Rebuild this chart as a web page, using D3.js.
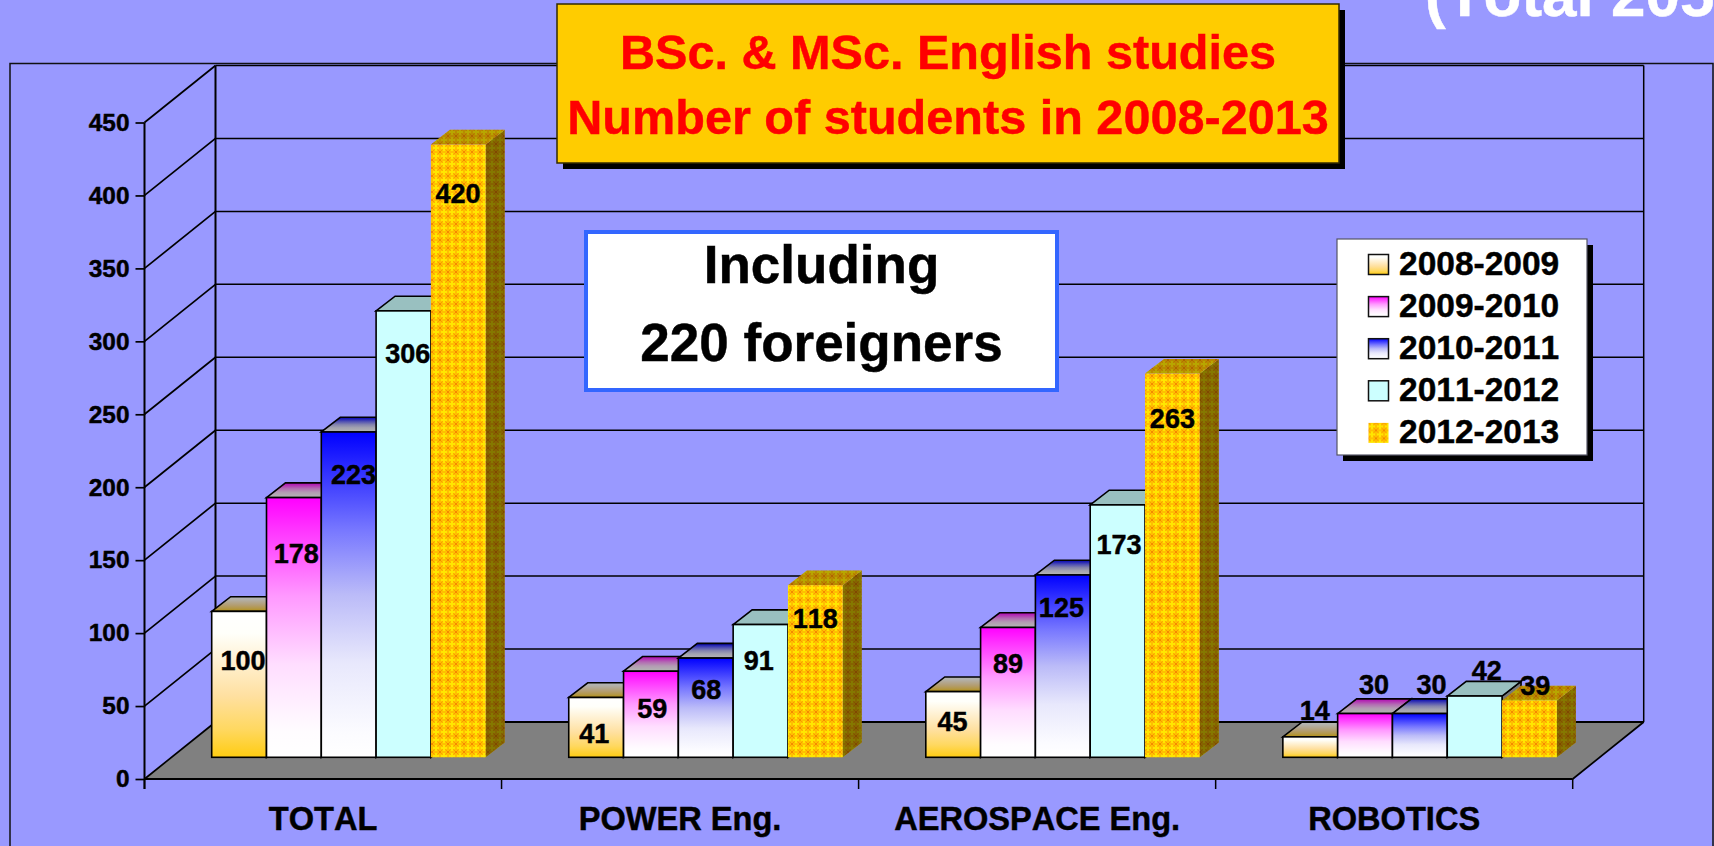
<!DOCTYPE html>
<html><head><meta charset="utf-8">
<script src="https://cdn.jsdelivr.net/npm/d3@7/dist/d3.min.js"></script>
<style>html,body{margin:0;padding:0;background:#9999ff;overflow:hidden}svg{display:block}text{font-family:"Liberation Sans",Arial,sans-serif;font-weight:700;font-kerning:none}</style>
</head><body><div id="chart"></div>
<script>
const categories = ["TOTAL","POWER Eng.","AEROSPACE Eng.","ROBOTICS"];
const seriesNames = ["2008-2009","2009-2010","2010-2011","2011-2012","2012-2013"];
const y2008 = [100,41,45,14];
const y2009 = [178,59,89,30];
const y2010 = [223,68,125,30];
const y2011 = [306,91,173,42];
const y2012 = [420,118,263,39];
const seriesValues = [y2008,y2009,y2010,y2011,y2012];
const yTicks = [0,50,100,150,200,250,300,350,400,450];
const titleLines = ["BSc. & MSc. English studies","Number of students in 2008-2013"];
const noteLines = ["Including","220 foreigners"];
const cornerText = "(Total 205";

// layout: hand placement of the data labels relative to each bar's top centre, [dx, baseline dy]
const labelNudge = [
 [[4,58.6],[2.4,65],[4.8,52],[4.2,52],[-.2,58.5]],
 [[-2,45.2],[1.2,47.1],[.6,41.2],[-1.7,45.5],[0,42.6]],
 [[-.7,39.4],[0,45.3],[-1.4,41.8],[1.4,49],[0,54]],
 [[4.4,-17],[8.9,-20],[11.6,-20],[12,-16],[5.9,-5]]
];
const W=1714,H=846;
const svg=d3.select("#chart").append("svg").attr("width",W).attr("height",H);
const defs=svg.append("defs");

const grads=[
 {front:[[0,"#ffffff"],[.15,"#fffffa"],[.35,"#fff0d0"],[.58,"#ffe0a0"],[.81,"#ffd860"],[1,"#ffcc11"]]},
 {front:[[0,"#ff00ff"],[.12,"#ff33ff"],[.38,"#ff99ff"],[.51,"#ffbbff"],[.64,"#ffddff"],[.9,"#fffcff"],[1,"#ffffff"]]},
 {front:[[0,"#0000ff"],[.3,"#7777ff"],[.5,"#bbbbf8"],[.71,"#e8e8fc"],[.92,"#fbfbff"],[1,"#ffffff"]]}
];
const dark=c=>{const k=d3.rgb(c);return d3.rgb(k.r*.7,k.g*.7,k.b*.7).formatHex();};
grads.forEach((g,i)=>{
  const mk=(id,f)=>defs.append("linearGradient").attr("id",id).attr("x1",0).attr("y1",0).attr("x2",0).attr("y2",1)
    .selectAll("stop").data(g.front).join("stop").attr("offset",d=>d[0]).attr("stop-color",d=>f(d[1]));
  mk("g"+i,c=>c); mk("t"+i,dark);
});
const pat=defs.append("pattern").attr("id","weave").attr("patternUnits","userSpaceOnUse").attr("width",8).attr("height",8);
const tile=[
 [0,0,8,8,"#ffc000"],
 [3,1,2,6,"#ffe600"],[1,3,6,2,"#ffe600"],
 [0,0,1,1,"#f58a00"],[7,0,1,1,"#f58a00"],[0,7,1,1,"#f58a00"],[7,7,1,1,"#f58a00"],
 [1,1,1,1,"#fa9e00"],[6,1,1,1,"#fa9e00"],[1,6,1,1,"#fa9e00"],[6,6,1,1,"#fa9e00"],
 [2,2,1,1,"#ffae00"],[5,2,1,1,"#ffae00"],[2,5,1,1,"#ffae00"],[5,5,1,1,"#ffae00"]
];
pat.selectAll("rect").data(tile).join("rect").attr("x",d=>d[0]).attr("y",d=>d[1]).attr("width",d=>d[2]).attr("height",d=>d[3]).attr("fill",d=>d[4]);

const bg="#9999ff", ink="#000";
const x0=144.5,x1=1572.7,dxB=71,dyB=-57;
const y=d3.scaleLinear().domain([0,450]).range([779,122.5]);
const xCat=d3.scaleBand().domain(categories).range([x0,x1]);
const xSer=d3.scaleBand().domain(seriesNames).range([0,274]);
const barShift=67.2, liftBase=21.7, tdx=19, tdy=-14.7;

// outer frame
svg.append("rect").attr("x",10).attr("y",63.5).attr("width",1703).attr("height",H).attr("fill",bg).attr("stroke","#111").attr("stroke-width",1.5);
// corner text
svg.append("text").attr("x",1425).attr("y",16).attr("font-size",62).attr("fill","#fff").text(cornerText);

// walls
const grid=svg.append("g").attr("fill","none").attr("stroke",ink).attr("stroke-width",1.7);
grid.append("path").attr("d",`M${x0},${y(0)}L${x0+dxB},${y(0)+dyB}L${x1+dxB-.2},${y(0)+dyB}L${x1},${y(0)}Z`).attr("fill","#808080").attr("stroke","none");
grid.selectAll("line.g").data(yTicks).join("line").attr("class","g")
  .attr("x1",x0+dxB).attr("x2",x1+dxB).attr("y1",d=>y(d)+dyB).attr("y2",d=>y(d)+dyB)
  .attr("stroke-width",d=>d==0?2.2:1.5);
grid.selectAll("line.s").data(yTicks).join("line").attr("class","s")
  .attr("x1",x0).attr("x2",x0+dxB).attr("y1",d=>y(d)).attr("y2",d=>y(d)+dyB);
grid.append("line").attr("x1",x0+dxB).attr("x2",x0+dxB).attr("y1",y(450)+dyB).attr("y2",y(0)+dyB).attr("stroke-width",2);
grid.append("line").attr("x1",x1+dxB).attr("x2",x1+dxB).attr("y1",y(450)+dyB).attr("y2",y(0)+dyB).attr("stroke-width",1.5);
grid.append("line").attr("x1",x1).attr("x2",x1+dxB).attr("y1",y(0)).attr("y2",y(0)+dyB);

// axes
const yAxis=d3.axisLeft(y).tickValues(yTicks).tickSize(9).tickPadding(6);
const gy=svg.append("g").attr("transform",`translate(${x0},0)`).call(yAxis);
gy.select(".domain").attr("stroke",ink).attr("stroke-width",2).attr("d",`M0,${y(450)}V${y(0)+10}`);
gy.selectAll(".tick line").attr("stroke",ink).attr("stroke-width",1.7);
gy.selectAll("text").attr("font-size",24.4).attr("font-family",null).attr("fill",ink);
const xAxis=d3.axisBottom(xCat).tickSize(0).tickPadding(29);
const gx=svg.append("g").attr("transform",`translate(0,${y(0)})`).call(xAxis);
gx.select(".domain").attr("stroke",ink).attr("stroke-width",2.2).attr("d",`M${x0},0H${x1}`);
gx.selectAll("text").attr("font-size",32.6).attr("font-family",null).attr("fill",ink).attr("dy",0).attr("y",51).attr("text-anchor","middle");
gx.selectAll("line.b").data(d3.range(categories.length+1)).join("line").attr("class","b")
  .attr("x1",i=>x0+i*xCat.step()).attr("x2",i=>x0+i*xCat.step()).attr("y1",0).attr("y2",10)
  .attr("stroke",ink).attr("stroke-width",1.5);

// bars
const bars=svg.append("g");
const w=xSer.bandwidth();
const base=y(0)-liftBase;
const fills=i=>i<3?`url(#g${i})`:i==3?"#ccffff":"url(#weave)";
categories.forEach((c,ci)=>{
  seriesNames.forEach((s,si)=>{
    const v=seriesValues[si][ci];
    const L=xCat(c)+barShift+xSer(s), R=L+w, T=y(v)-liftBase;
    const g=bars.append("g");
    const outline=si<4?{stroke:ink,sw:1.6}:{stroke:"none",sw:0};
    // side
    g.append("path").attr("d",`M${R},${T}L${R+tdx},${T+tdy}V${base+tdy}L${R},${base}Z`)
      .attr("fill",si==4?"url(#weave)":"#777").attr("stroke",outline.stroke).attr("stroke-width",outline.sw);
    if(si==4) g.append("path").attr("d",`M${R},${T}L${R+tdx},${T+tdy}V${base+tdy}L${R},${base}Z`).attr("fill","#000").attr("fill-opacity",.48);
    // top
    const topD=`M${L},${T}L${L+tdx},${T+tdy}H${R+tdx}L${R},${T}Z`;
    g.append("path").attr("d",topD).attr("fill",si<3?`url(#t${si})`:si==3?"#99c0c0":"url(#weave)")
      .attr("stroke",outline.stroke).attr("stroke-width",outline.sw);
    if(si==4) g.append("path").attr("d",topD).attr("fill","#000").attr("fill-opacity",.28);
    // front
    g.append("rect").attr("x",L).attr("y",T).attr("width",w).attr("height",base-T)
      .attr("fill",fills(si)).attr("stroke",outline.stroke).attr("stroke-width",outline.sw);
  });
});
// labels
const labels=svg.append("g").attr("font-size",27).attr("text-anchor","middle").attr("fill",ink);
categories.forEach((c,ci)=>seriesNames.forEach((s,si)=>{
  const v=seriesValues[si][ci], n=labelNudge[ci][si];
  labels.append("text").attr("x",xCat(c)+barShift+xSer(s)+w/2+n[0]).attr("y",y(v)-liftBase+n[1]).text(v);
}));

// title box
const box=(l,t,r,b,opt)=>{
  if(opt.shadow) svg.append("rect").attr("x",l+opt.shadow).attr("y",t+opt.shadow).attr("width",r-l).attr("height",b-t).attr("fill","#000");
  svg.append("rect").attr("x",l).attr("y",t).attr("width",r-l).attr("height",b-t).attr("fill",opt.fill).attr("stroke",opt.stroke).attr("stroke-width",opt.sw);
};
box(557,4,1339,163,{shadow:6,fill:"#ffcc00",stroke:"#332a00",sw:1.5});
svg.selectAll("text.title").data(titleLines).join("text").attr("class","title")
  .attr("x",948).attr("y",(d,i)=>69+i*65).attr("text-anchor","middle").attr("font-size",48.6).attr("fill","#ff0000").text(d=>d);
box(586,232,1057,390,{fill:"#fff",stroke:"#3366ff",sw:4});
svg.selectAll("text.note").data(noteLines).join("text").attr("class","note")
  .attr("x",821.5).attr("y",(d,i)=>283+i*78).attr("text-anchor","middle").attr("font-size",53).attr("fill",ink).text(d=>d);

// legend
box(1337,239,1587,455,{shadow:6,fill:"#fff",stroke:"#556",sw:1.2});
const lg=svg.selectAll("g.lg").data(seriesNames).join("g").attr("class","lg")
  .attr("transform",(d,i)=>`translate(0,${254+i*42.1})`);
lg.append("rect").attr("x",1368.5).attr("y",.5).attr("width",20).attr("height",20)
  .attr("fill",(d,i)=>fills(i)).attr("stroke",(d,i)=>i<4?"#111":"none").attr("stroke-width",1.5);
lg.append("text").attr("x",1399).attr("y",21).attr("font-size",33.5).attr("fill",ink).text(d=>d);

// the source text is slightly heavier than plain bold
svg.selectAll("text").each(function(){
  const t=d3.select(this);
  const fill=t.attr("fill")||ink;
  t.attr("stroke",fill).attr("stroke-width",.45).attr("fill",fill);
});
</script></body></html>
